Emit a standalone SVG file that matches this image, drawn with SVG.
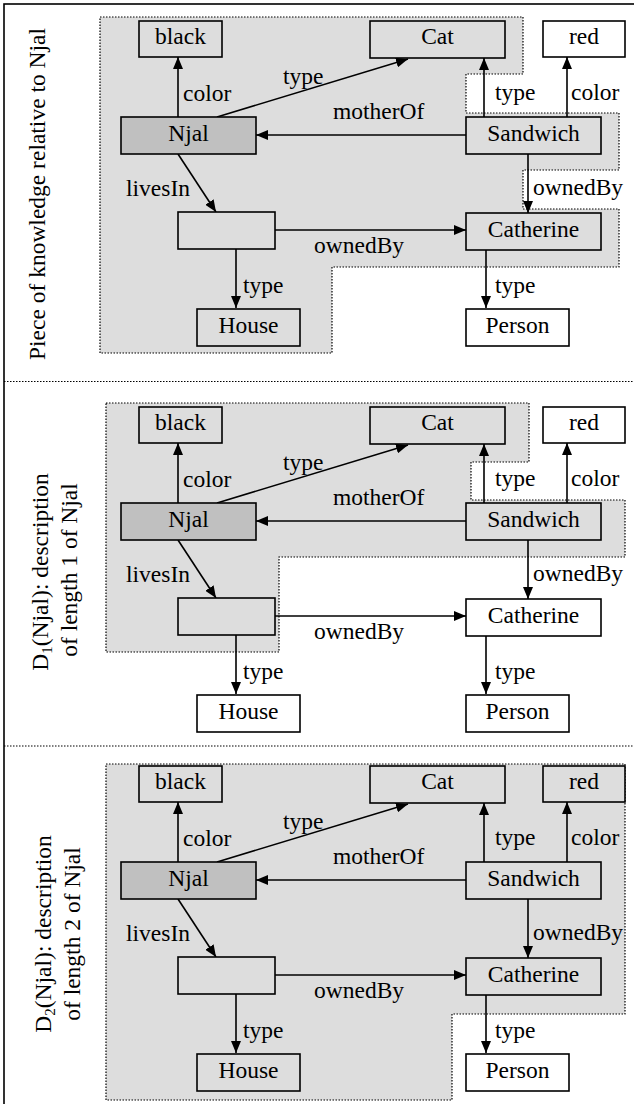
<svg xmlns="http://www.w3.org/2000/svg" width="634" height="1104" viewBox="0 0 634 1104" font-family="'Liberation Serif', 'Times New Roman', Tinos, 'DejaVu Serif', serif">
  <style>
    .frame { fill: none; stroke: #000; stroke-width: 1.6; }
    .divider { stroke: #000; stroke-width: 1.2; stroke-dasharray: 1.5 1.5; fill: none; }
    .region { fill: #dddddd; stroke: #000; stroke-width: 1.2; stroke-dasharray: 1.5 1.5; }
    .node rect { stroke: #000; stroke-width: 1.6; }
    .in rect { fill: #dddddd; }
    .out rect { fill: #ffffff; }
    .focus rect { fill: #c0c0c0; }
    text { font-family: 'Liberation Serif', 'Times New Roman', Tinos, 'DejaVu Serif', serif; font-size: 23.5px; fill: #000; }
    .node text { text-anchor: middle; }
    .edge line { stroke: #000; stroke-width: 1.6; marker-end: url(#arrow); }
    .title { text-anchor: middle; }
  </style>
  <defs>
    <marker id="arrow" markerUnits="userSpaceOnUse" markerWidth="12" markerHeight="10" refX="12" refY="5" orient="auto">
      <path d="M0,0 L12,5 L0,10 z" fill="#000"/>
    </marker>
  </defs>

  <rect class="frame" x="4" y="4" width="640" height="1110"/>
  <line class="divider" x1="4" y1="381.5" x2="634" y2="381.5"/>
  <line class="divider" x1="4" y1="746" x2="634" y2="746"/>

  <!-- Panel 1: piece of knowledge -->
  <g id="panel1">
    <polygon class="region" points="100,17 523,17 523,74 466,74 466,113 619,113 619,170 523,170 523,209 619,209 619,267 332,267 332,353 100,353"/>
    <text class="title" transform="translate(45,194) rotate(-90)">Piece of knowledge relative to Njal</text>
    <g id="p1-connectors" class="edge">
      <line x1="178" y1="117" x2="178" y2="57"/>
      <line x1="217" y1="117" x2="408" y2="59"/>
      <line x1="466" y1="135" x2="256" y2="135"/>
      <line x1="178" y1="154" x2="216" y2="212"/>
      <line x1="275" y1="230" x2="466" y2="230"/>
      <line x1="236" y1="249" x2="236" y2="308"/>
      <line x1="484" y1="117" x2="484" y2="58"/>
      <line x1="567" y1="117" x2="567" y2="57"/>
      <line x1="528" y1="154" x2="528" y2="213"/>
      <line x1="486" y1="250" x2="486" y2="308"/>
      <text x="183" y="101">color</text>
      <text x="283" y="84">type</text>
      <text x="333" y="119">motherOf</text>
      <text x="126" y="196">livesIn</text>
      <text x="314" y="253">ownedBy</text>
      <text x="243" y="293">type</text>
      <text x="495" y="100">type</text>
      <text x="571" y="100">color</text>
      <text x="533" y="195">ownedBy</text>
      <text x="495" y="293">type</text>
    </g>
    <g id="p1-black" class="node in"><rect x="139" y="21" width="83" height="36"/><text x="180.5" y="44">black</text></g>
    <g id="p1-cat" class="node in"><rect x="370" y="21" width="135" height="37"/><text x="437.5" y="44">Cat</text></g>
    <g id="p1-red" class="node out"><rect x="543" y="21" width="82" height="36"/><text x="584" y="44">red</text></g>
    <g id="p1-njal" class="node focus"><rect x="121" y="117" width="135" height="37"/><text x="188.5" y="141">Njal</text></g>
    <g id="p1-sandwich" class="node in"><rect x="466" y="117" width="135" height="37"/><text x="533.5" y="141">Sandwich</text></g>
    <g id="p1-blank" class="node in"><rect x="178" y="212" width="97" height="37"/></g>
    <g id="p1-catherine" class="node in"><rect x="466" y="213" width="135" height="37"/><text x="533.5" y="237">Catherine</text></g>
    <g id="p1-house" class="node in"><rect x="197" y="309" width="103" height="37"/><text x="248.5" y="333">House</text></g>
    <g id="p1-person" class="node out"><rect x="466" y="309" width="103" height="37"/><text x="517.5" y="333">Person</text></g>
  </g>

  <!-- Panel 2: description of length 1 -->
  <g id="panel2">
    <polygon class="region" points="106,403 529,403 529,462 471,462 471,500 625,500 625,557 279,557 279,652 106,652"/>
    <text class="title" transform="translate(48,572) rotate(-90)">D<tspan font-size="15" dy="4">1</tspan><tspan dy="-4">(Njal): description</tspan></text>
    <text class="title" transform="translate(77,570) rotate(-90)">of length 1 of Njal</text>
    <g transform="translate(0,386)">
      <g id="p2-connectors" class="edge">
        <line x1="178" y1="117" x2="178" y2="57"/>
        <line x1="217" y1="117" x2="408" y2="59"/>
        <line x1="466" y1="135" x2="256" y2="135"/>
        <line x1="178" y1="154" x2="216" y2="212"/>
        <line x1="275" y1="230" x2="466" y2="230"/>
        <line x1="236" y1="249" x2="236" y2="308"/>
        <line x1="484" y1="117" x2="484" y2="58"/>
        <line x1="567" y1="117" x2="567" y2="57"/>
        <line x1="528" y1="154" x2="528" y2="213"/>
        <line x1="486" y1="250" x2="486" y2="308"/>
        <text x="183" y="101">color</text>
        <text x="283" y="84">type</text>
        <text x="333" y="119">motherOf</text>
        <text x="126" y="196">livesIn</text>
        <text x="314" y="253">ownedBy</text>
        <text x="243" y="293">type</text>
        <text x="495" y="100">type</text>
        <text x="571" y="100">color</text>
        <text x="533" y="195">ownedBy</text>
        <text x="495" y="293">type</text>
      </g>
      <g id="p2-black" class="node in"><rect x="139" y="21" width="83" height="36"/><text x="180.5" y="44">black</text></g>
      <g id="p2-cat" class="node in"><rect x="370" y="21" width="135" height="37"/><text x="437.5" y="44">Cat</text></g>
      <g id="p2-red" class="node out"><rect x="543" y="21" width="82" height="36"/><text x="584" y="44">red</text></g>
      <g id="p2-njal" class="node focus"><rect x="121" y="117" width="135" height="37"/><text x="188.5" y="141">Njal</text></g>
      <g id="p2-sandwich" class="node in"><rect x="466" y="117" width="135" height="37"/><text x="533.5" y="141">Sandwich</text></g>
      <g id="p2-blank" class="node in"><rect x="178" y="212" width="97" height="37"/></g>
      <g id="p2-catherine" class="node out"><rect x="466" y="213" width="135" height="37"/><text x="533.5" y="237">Catherine</text></g>
      <g id="p2-house" class="node out"><rect x="197" y="309" width="103" height="37"/><text x="248.5" y="333">House</text></g>
      <g id="p2-person" class="node out"><rect x="466" y="309" width="103" height="37"/><text x="517.5" y="333">Person</text></g>
    </g>
  </g>

  <!-- Panel 3: description of length 2 -->
  <g id="panel3">
    <polygon class="region" points="106,764 625,764 625,1014 452,1014 452,1100 106,1100"/>
    <text class="title" transform="translate(51,934) rotate(-90)">D<tspan font-size="15" dy="4">2</tspan><tspan dy="-4">(Njal): description</tspan></text>
    <text class="title" transform="translate(80,934) rotate(-90)">of length 2 of Njal</text>
    <g transform="translate(0,745)">
      <g id="p3-connectors" class="edge">
        <line x1="178" y1="117" x2="178" y2="57"/>
        <line x1="217" y1="117" x2="408" y2="59"/>
        <line x1="466" y1="135" x2="256" y2="135"/>
        <line x1="178" y1="154" x2="216" y2="212"/>
        <line x1="275" y1="230" x2="466" y2="230"/>
        <line x1="236" y1="249" x2="236" y2="308"/>
        <line x1="484" y1="117" x2="484" y2="58"/>
        <line x1="567" y1="117" x2="567" y2="57"/>
        <line x1="528" y1="154" x2="528" y2="213"/>
        <line x1="486" y1="250" x2="486" y2="308"/>
        <text x="183" y="101">color</text>
        <text x="283" y="84">type</text>
        <text x="333" y="119">motherOf</text>
        <text x="126" y="196">livesIn</text>
        <text x="314" y="253">ownedBy</text>
        <text x="243" y="293">type</text>
        <text x="495" y="100">type</text>
        <text x="571" y="100">color</text>
        <text x="533" y="195">ownedBy</text>
        <text x="495" y="293">type</text>
      </g>
      <g id="p3-black" class="node in"><rect x="139" y="21" width="83" height="36"/><text x="180.5" y="44">black</text></g>
      <g id="p3-cat" class="node in"><rect x="370" y="21" width="135" height="37"/><text x="437.5" y="44">Cat</text></g>
      <g id="p3-red" class="node in"><rect x="543" y="21" width="82" height="36"/><text x="584" y="44">red</text></g>
      <g id="p3-njal" class="node focus"><rect x="121" y="117" width="135" height="37"/><text x="188.5" y="141">Njal</text></g>
      <g id="p3-sandwich" class="node in"><rect x="466" y="117" width="135" height="37"/><text x="533.5" y="141">Sandwich</text></g>
      <g id="p3-blank" class="node in"><rect x="178" y="212" width="97" height="37"/></g>
      <g id="p3-catherine" class="node in"><rect x="466" y="213" width="135" height="37"/><text x="533.5" y="237">Catherine</text></g>
      <g id="p3-house" class="node in"><rect x="197" y="309" width="103" height="37"/><text x="248.5" y="333">House</text></g>
      <g id="p3-person" class="node out"><rect x="466" y="309" width="103" height="37"/><text x="517.5" y="333">Person</text></g>
    </g>
  </g>
</svg>
